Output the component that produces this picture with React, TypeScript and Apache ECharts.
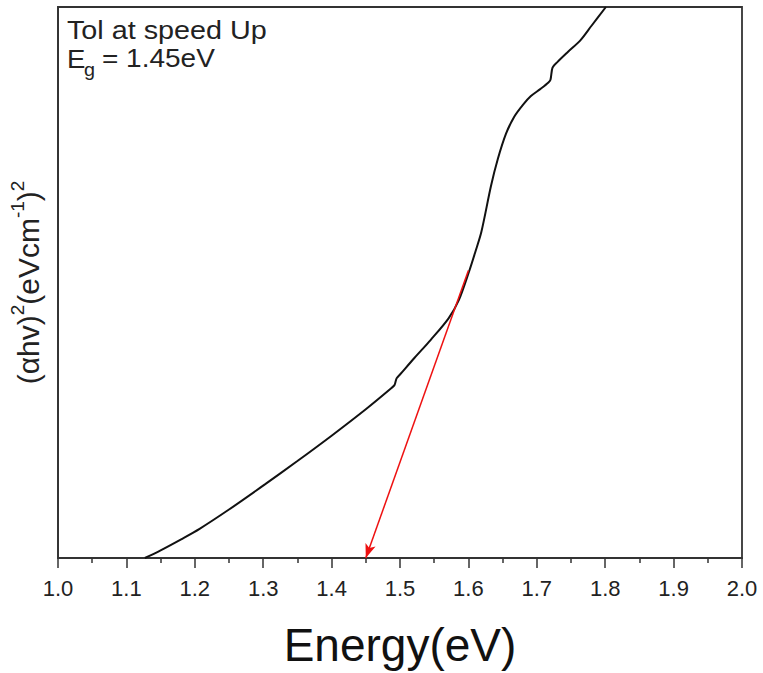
import React, { useEffect, useRef } from "react";
import * as echarts from "echarts";

// Measured curve: photon energy (eV) vs (αhν)² in arbitrary units (0–100 of plot height)
const energy = [
  1.127, 1.15, 1.18, 1.207, 1.25, 1.303, 1.35, 1.4, 1.45, 1.488, 1.492, 1.495, 1.5,
  1.521, 1.545, 1.571, 1.586, 1.601, 1.61, 1.619, 1.633, 1.643, 1.655, 1.667, 1.68,
  1.691, 1.705, 1.717, 1.72, 1.723, 1.73, 1.745, 1.764, 1.78, 1.801,
];
const absorb = [
  0, 1.4, 3.4, 5.3, 8.8, 13.4, 17.6, 22.2, 27.0, 30.9, 31.4, 32.6, 33.3,
  36.3, 39.6, 43.5, 46.8, 52.0, 55.5, 59.2, 67.5, 72.4, 77.0, 80.1, 82.3,
  83.8, 85.1, 86.3, 86.8, 89.0, 90.0, 91.8, 94.0, 96.6, 100,
];
// Tangent (extrapolation) line end points
const tangentX = [1.6, 1.45];
const tangentY = [52.2, 0];

const xTicks = ["1.0", "1.1", "1.2", "1.3", "1.4", "1.5", "1.6", "1.7", "1.8", "1.9", "2.0"];

const FONT = "'Liberation Sans', Arial, sans-serif";

export default function App() {
  const ref = useRef<HTMLDivElement>(null);
  useEffect(() => {
    if (!ref.current) return;
    const chart = echarts.init(ref.current, undefined, { renderer: "svg" });
    const curve = energy.map((e, i) => [e, absorb[i]]);
    chart.setOption({
      animation: false,
      backgroundColor: "#fff",
      textStyle: { fontFamily: FONT },
      grid: {
        left: 55,
        right: 21,
        top: 7,
        bottom: 112,
        show: true,
        borderColor: "#333",
        borderWidth: 1.8,
        containLabel: false,
      },
      xAxis: {
        type: "value",
        min: 1.0,
        max: 2.0,
        interval: 0.1,
        name: "Energy(eV)",
        nameLocation: "middle",
        nameGap: 64,
        nameTextStyle: { fontSize: 46, color: "#111", fontFamily: FONT },
        axisLine: { show: true, lineStyle: { color: "#333", width: 1.8 } },
        axisTick: { show: true, inside: false, length: 10, lineStyle: { color: "#333", width: 1.5 } },
        minorTick: { show: true, splitNumber: 2, length: 5, lineStyle: { color: "#333", width: 1.5 } },
        splitLine: { show: false },
        axisLabel: {
          fontSize: 22,
          color: "#222",
          margin: 19,
          fontFamily: FONT,
          formatter: (v: number) => {
            const idx = Math.round((v - 1) * 10);
            return xTicks[idx] ?? "";
          },
        },
      },
      yAxis: {
        type: "value",
        min: 0,
        max: 100,
        name: "{n|(αhv)}{s|2}{n|(eVcm}{s|-1}{n|)}{s|2}",
        nameLocation: "middle",
        nameRotate: 90,
        nameGap: 15,
        nameTextStyle: {
          color: "#222",
          fontFamily: FONT,
          rich: {
            n: { fontSize: 30, color: "#222", fontFamily: FONT, padding: [9, 0, 0, 0] },
            s: { fontSize: 19, color: "#222", fontFamily: FONT, padding: [0, 0, 12, 0] },
          },
        },
        axisLine: { show: true, lineStyle: { color: "#333", width: 1.8 } },
        axisTick: { show: false },
        axisLabel: { show: false },
        splitLine: { show: false },
      },
      graphic: [
        {
          type: "text",
          x: 67,
          y: 31,
          scaleX: 1.15,
          style: { text: "Tol at speed Up", fontSize: 25, fill: "#222", fontFamily: FONT, verticalAlign: "middle", align: "left" },
        },
        {
          type: "text",
          x: 67,
          y: 59,
          scaleX: 1.1,
          style: { text: "E", fontSize: 25, fill: "#222", fontFamily: FONT, verticalAlign: "middle", align: "left" },
        },
        {
          type: "text",
          x: 84,
          y: 70,
          scaleX: 1.1,
          style: { text: "g", fontSize: 18, fill: "#222", fontFamily: FONT, verticalAlign: "middle", align: "left" },
        },
        {
          type: "text",
          x: 102,
          y: 59,
          scaleX: 1.12,
          style: { text: "= 1.45eV", fontSize: 25, fill: "#222", fontFamily: FONT, verticalAlign: "middle", align: "left" },
        },
      ],
      series: [
        {
          type: "line",
          data: curve,
          showSymbol: false,
          symbol: "none",
          smooth: 0.3,
          clip: true,
          lineStyle: { color: "#111", width: 2 },
        },
        {
          type: "line",
          data: [],
          showSymbol: false,
          markLine: {
            silent: true,
            symbol: ["none", "arrow"],
            symbolSize: [8, 14],
            label: { show: false },
            lineStyle: { color: "#ee1111", width: 1.5, type: "solid" },
            data: [
              [
                { coord: [tangentX[0], tangentY[0]] },
                { coord: [tangentX[1], tangentY[1]] },
              ],
            ],
          },
        },
      ],
    });
    return () => chart.dispose();
  }, []);
  return (
    <div
      ref={ref}
      style={{ position: "fixed", left: 0, top: 0, width: 763, height: 673 }}
    />
  );
}
